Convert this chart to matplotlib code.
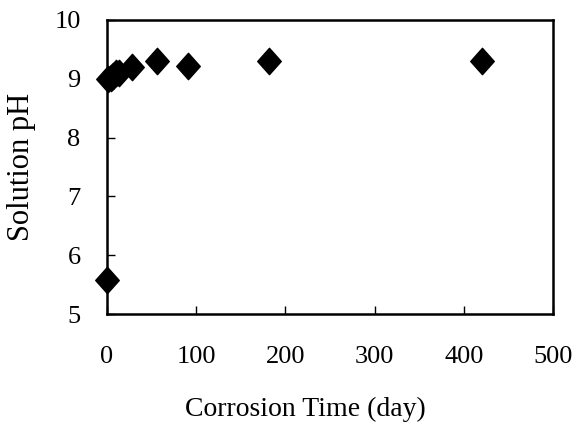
import numpy as np
import matplotlib.pyplot as plt
from matplotlib.path import Path

plt.rcParams['font.family'] = ['Liberation Serif', 'DejaVu Serif']

days = [0, 1, 4, 7, 10, 14, 28, 56, 91, 182, 420]
ph = [5.58, 9.0, 9.02, 9.05, 9.1, 9.1, 9.2, 9.3, 9.22, 9.3, 9.3]

diamond = Path([(0, 1.12), (1, 0), (0, -1.12), (-1, 0), (0, 1.12)],
               [Path.MOVETO, Path.LINETO, Path.LINETO, Path.LINETO, Path.CLOSEPOLY])

fig = plt.figure(figsize=(5.75, 4.24), dpi=100)
ax = fig.add_axes([0.186, 0.259, 0.776, 0.694])
ax.plot(days, ph, linestyle='none', marker=diamond, markersize=19,
        color='black', clip_on=False)

ax.set_xlim(0, 500)
ax.set_ylim(5, 10)
ax.set_xticks(np.arange(0, 501, 100))
ax.set_yticks(np.arange(5, 11, 1))
ax.tick_params(direction='in', length=6, width=1, labelsize=19)
ax.tick_params(axis='x', pad=23)
ax.tick_params(axis='y', pad=19)
for s in ax.spines.values():
    s.set_linewidth(1.8)

ax.set_xlabel('Corrosion Time (day)', fontsize=20, labelpad=21, x=0.444)
ax.set_ylabel('Solution pH', fontsize=22, labelpad=13)

plt.savefig('out.png', dpi=100)
